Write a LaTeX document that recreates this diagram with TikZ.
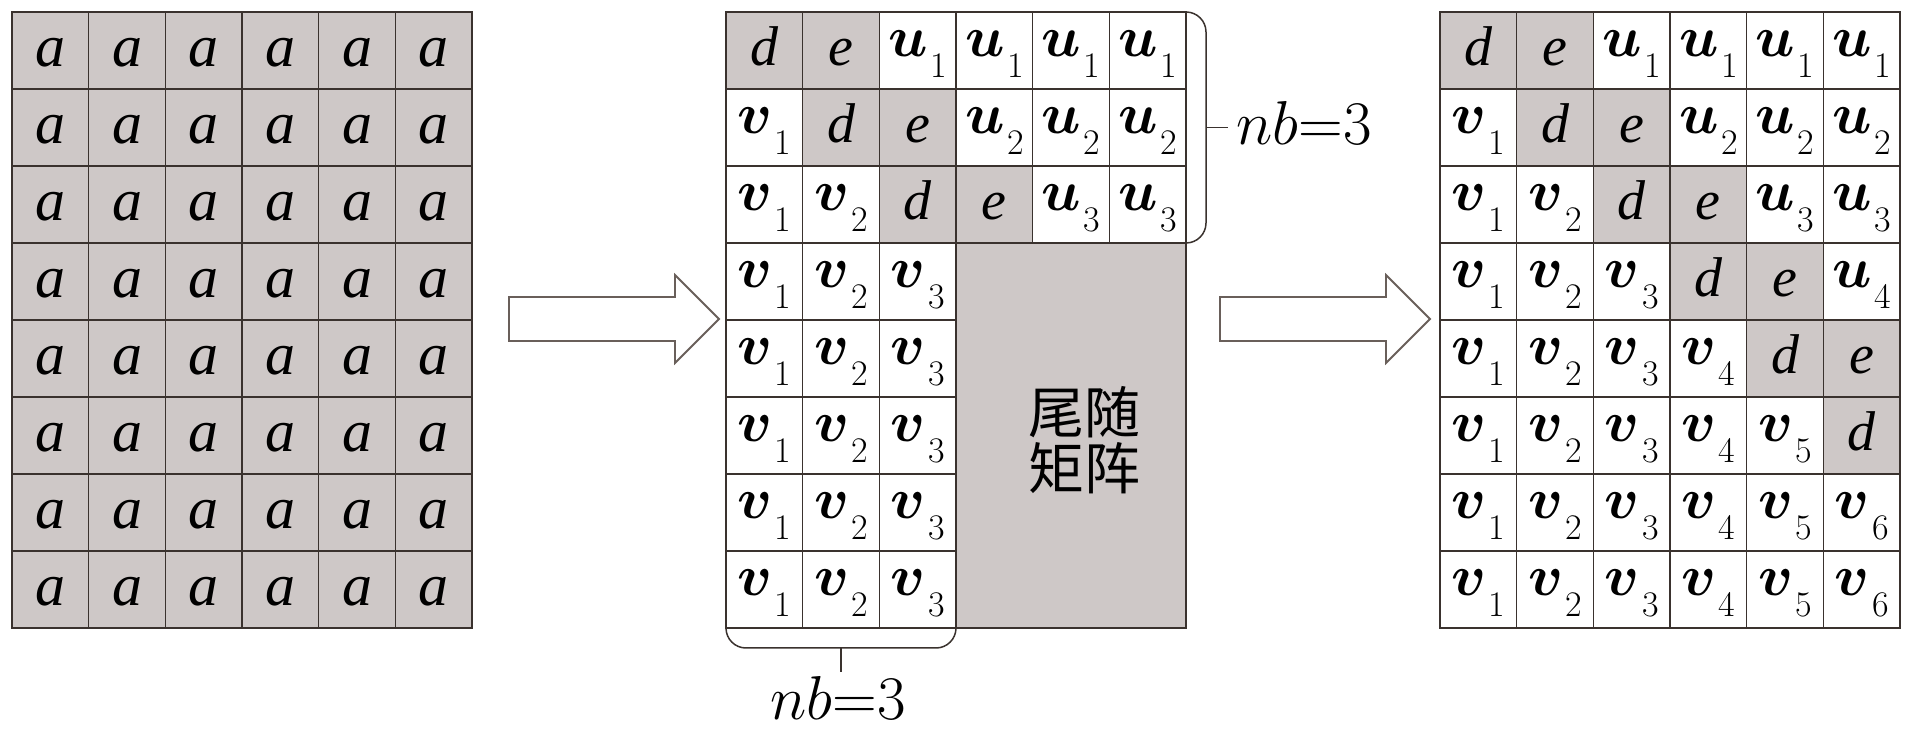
\RequirePackage{fix-cm}
\documentclass[tikz,border=0pt]{standalone}
\usepackage{amsmath}
\usepackage{fontspec}
\newfontfamily\tms{Liberation Serif}
\newfontfamily\cjk{Noto Sans CJK SC}
\usetikzlibrary{calc}
\definecolor{cg}{RGB}{206,200,199}
\definecolor{lc}{RGB}{58,50,46}
\definecolor{ac}{RGB}{105,95,90}
\newcommand{\bsv}[2]{{\fontsize{29}{31}\selectfont$\boldsymbol{#1}$}\kern1.2pt\raisebox{-10.5pt}{\fontsize{18}{18}\selectfont #2}}
\newcommand{\itl}[1]{{\tms\itshape\fontsize{28}{30}\selectfont #1}}
\newcommand{\gcell}[4]{%
  \pgfmathsetmacro\cx{#2+(#4-0.5)*76.667}%
  \pgfmathsetmacro\ty{12+(#3-1)*77}%
  \ifnum#4<#3\relax
    \node[cell] (#1-#3-#4) at (\cx,\ty+38.5) {};
    \node[lbl] at (\cx,\ty+45) {\bsv{v}{#4}};
  \else\ifnum#4=#3\relax
    \node[cell,fill=cg] (#1-#3-#4) at (\cx,\ty+38.5) {};
    \node[lbl] at (\cx,\ty+54) {\itl{d}};
  \else\ifnum#4=\numexpr#3+1\relax
    \node[cell,fill=cg] (#1-#3-#4) at (\cx,\ty+38.5) {};
    \node[lbl] at (\cx,\ty+54) {\itl{e}};
  \else
    \node[cell] (#1-#3-#4) at (\cx,\ty+38.5) {};
    \node[lbl] at (\cx,\ty+45) {\bsv{u}{#3}};
  \fi\fi\fi
}
\tikzset{
  cell/.style={draw=lc, line width=0.8pt, minimum width=38.333pt, minimum height=38.5pt, inner sep=0pt, outer sep=0pt},
  lbl/.style={anchor=base, inner sep=0pt, text=black},
  brace/.style={draw=lc, line width=0.75pt, rounded corners=10pt},
  tick/.style={draw=lc, line width=0.75pt},
  blockarrow/.style={draw=ac, line width=0.9pt, fill=white, line join=miter},
}
\begin{document}
\begin{tikzpicture}[x=0.5pt,y=-0.5pt]
\useasboundingbox (0,0) rectangle (1913,732);
\fill[white] (0,0) rectangle (1913,732);
% left grid
\foreach \ri in {1,...,8}{\foreach \ci in {1,...,6}{%
  \pgfmathsetmacro\cx{12+(\ci-0.5)*76.667}%
  \pgfmathsetmacro\ty{12+(\ri-1)*77}%
  \node[cell,fill=cg] (L-\ri-\ci) at (\cx,\ty+38.5) {};
  \node[lbl] at (\cx,\ty+55) {{\tms\itshape\fontsize{30}{32}\selectfont a}};
}}
% middle grid
\foreach \ri in {1,...,3}{\foreach \ci in {1,...,6}{\gcell{M}{726}{\ri}{\ci}}}
\foreach \ri in {4,...,8}{\foreach \ci in {1,...,3}{\gcell{M}{726}{\ri}{\ci}}}
\node[cell,fill=cg,minimum width=115pt,minimum height=192.5pt] (tail) at (1071,435.5) {};
\node[font={\cjk\fontsize{28}{28}\selectfont},align=center,inner sep=0pt] (tailtext) at (1084,440) {尾随\\矩阵};
% right grid
\foreach \ri in {1,...,8}{\foreach \ci in {1,...,6}{\gcell{R}{1440}{\ri}{\ci}}}
% braces
\draw[brace] (M-1-6.north east) -- ++(20,0) -- ($(M-3-6.south east)+(20,0)$) -- (M-3-6.south east);
\coordinate (bR) at ($(M-1-6.north east)!0.5!(M-3-6.south east)+(20,0)$);
\draw[tick] (bR) -- ++(22,0);
\node[lbl,anchor=base west] (nbR) at (1236,145) {\fontsize{31}{33}\selectfont$nb{=}3$};
\draw[brace] (M-8-1.south west) -- ++(0,20) -- ($(M-8-3.south east)+(0,20)$) -- (M-8-3.south east);
\coordinate (bB) at ($(M-8-1.south west)!0.5!(M-8-3.south east)+(0,20)$);
\draw[tick] (bB) -- ++(0,24);
\node[lbl] (nbB) at (838,719) {\fontsize{31}{33}\selectfont$nb{=}3$};
% arrows
\coordinate (a1s) at (509,319);
\coordinate (a2s) at (1220,319);
\foreach \a in {a1s,a2s}{
  \draw[blockarrow] ($(\a)+(0,-22)$) -- ++(166,0) -- ++(0,-22) -- ++(44,44) -- ++(-44,44) -- ++(0,-22) -- ++(-166,0) -- cycle;
}
\end{tikzpicture}
\end{document}
